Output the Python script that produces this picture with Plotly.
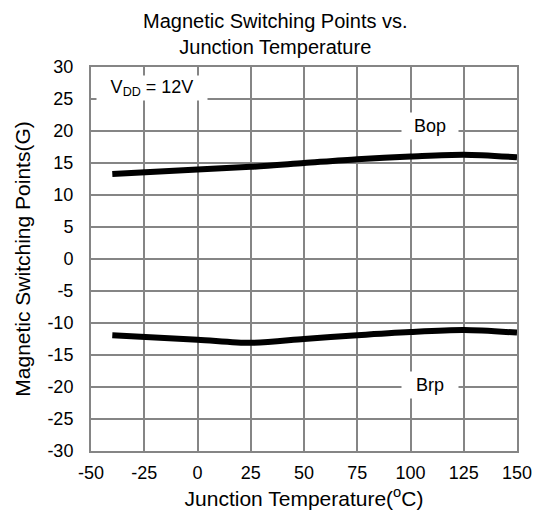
import plotly.graph_objects as go

temps = [-40, 0, 25, 50, 75, 100, 125, 150]
bop = [13.3, 14.0, 14.4, 15.0, 15.6, 16.0, 16.3, 15.9]
brp = [-11.9, -12.6, -13.1, -12.5, -11.9, -11.4, -11.1, -11.5]

x_ticks = [-50, -25, 0, 25, 50, 75, 100, 125, 150]
y_ticks = list(range(-30, 31, 5))

FONT = "Liberation Sans, Arial, sans-serif"

fig = go.Figure()
fig.add_trace(go.Scatter(x=temps, y=bop, mode="lines",
                         line=dict(color="black", width=6, shape="spline", smoothing=0.8)))
fig.add_trace(go.Scatter(x=temps, y=brp, mode="lines",
                         line=dict(color="black", width=6, shape="spline", smoothing=0.8)))

fig.update_layout(
    width=539, height=524,
    margin=dict(l=91, r=22, t=67, b=73, autoexpand=False),
    paper_bgcolor="white", plot_bgcolor="white",
    showlegend=False,
    font=dict(family=FONT, color="black"),
    xaxis=dict(range=[-50, 150], tickvals=x_ticks, ticktext=[str(v) for v in x_ticks],
               showgrid=True, gridcolor="#858585", gridwidth=1.5,
               showline=True, linecolor="#858585", linewidth=2, mirror=True,
               zeroline=False, ticks="", ticklen=0, tickfont=dict(size=18),
               ticklabelstandoff=4, automargin=False,
               title=dict(text="Junction Temperature(<sup>o</sup>C)", font=dict(size=21), standoff=10)),
    yaxis=dict(range=[-30, 30], tickvals=y_ticks, ticktext=[str(v) for v in y_ticks],
               showgrid=True, gridcolor="#858585", gridwidth=1.5,
               showline=True, linecolor="#858585", linewidth=2, mirror=True,
               zeroline=False, ticks="", ticklen=0, tickfont=dict(size=18),
               ticklabelstandoff=12, automargin=False,
               title=dict(text="Magnetic Switching Points(G)", font=dict(size=21), standoff=11)),
)

fig.add_annotation(xref="paper", yref="paper", x=0.434, y=1.086, xanchor="center", yanchor="middle",
                   text="Magnetic Switching Points vs.<br>Junction Temperature", showarrow=False,
                   font=dict(size=20))
fig.add_annotation(x=-21.4, y=26.7, text="V<sub>DD</sub> = 12V", showarrow=False,
                   font=dict(size=18), bgcolor="white", width=108, height=22)
fig.add_annotation(x=109, y=20.8, text="Bop", showarrow=False,
                   font=dict(size=18), bgcolor="white", width=54, height=24)
fig.add_annotation(x=109, y=-19.7, text="Brp", showarrow=False,
                   font=dict(size=18), bgcolor="white", width=54, height=24)

fig.write_html("out.html", config={"displayModeBar": False},
               post_script="document.body.style.margin='0';document.body.style.overflow='hidden';")
